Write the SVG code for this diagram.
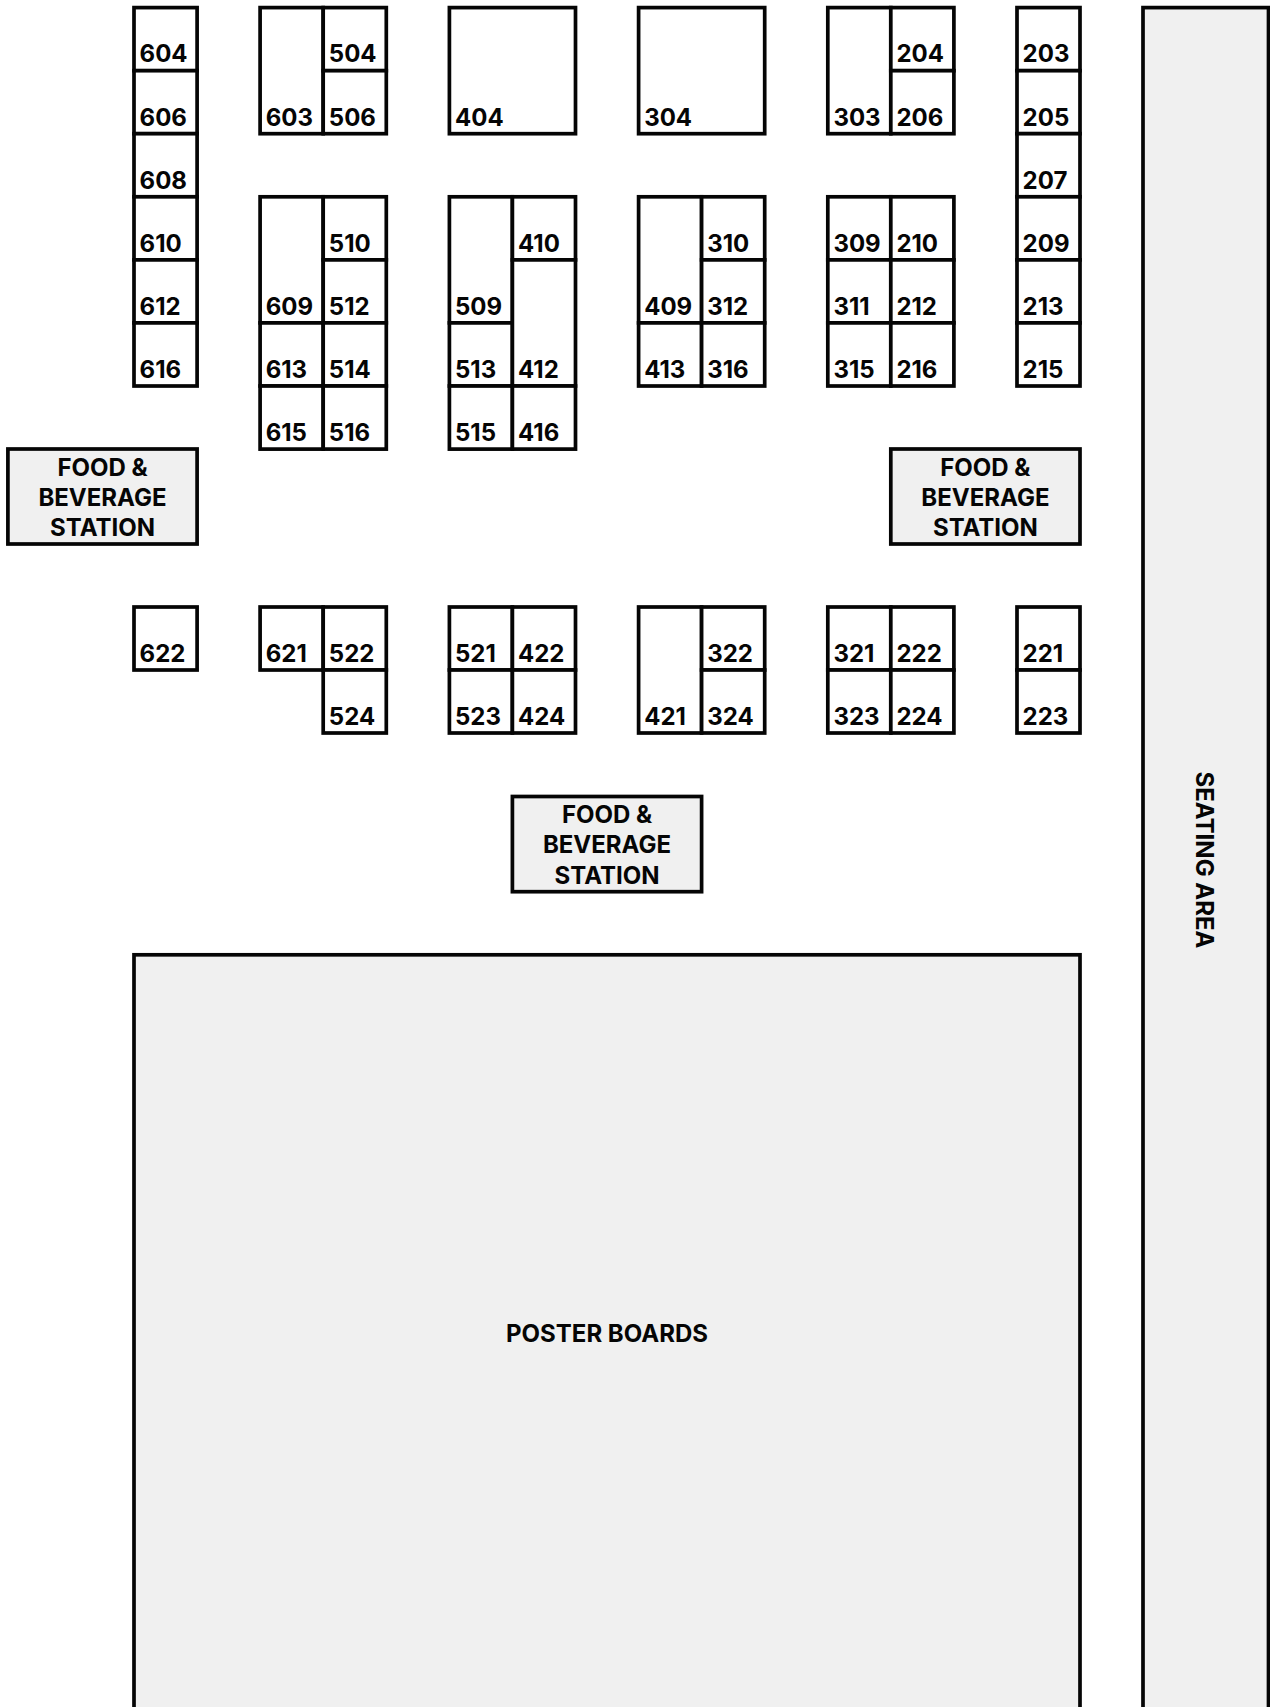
<svg xmlns="http://www.w3.org/2000/svg" width="1270" height="1707" viewBox="0 0 1270 1707">
<style>
text{font-family:"Inter","Liberation Sans",sans-serif;font-weight:700;fill:#050505;font-size:24px}
.a{fill:#fff;stroke:#050505;stroke-width:3.7}
.g{fill:#f0f0f0;stroke:#050505;stroke-width:3.7}
.c{text-anchor:middle}
</style>
<rect width="1270" height="1707" fill="#fff"/>
<g id="booth-604"><rect class="a" x="134" y="7.6" width="63.1" height="63.1"/><text x="139.6" y="62">604</text></g>
<g id="booth-606"><rect class="a" x="134" y="70.7" width="63.1" height="63"/><text x="139.6" y="125.7">606</text></g>
<g id="booth-608"><rect class="a" x="134" y="133.7" width="63.1" height="63.1"/><text x="139.6" y="188.8">608</text></g>
<g id="booth-610"><rect class="a" x="134" y="196.8" width="63.1" height="63.1"/><text x="139.6" y="251.9">610</text></g>
<g id="booth-612"><rect class="a" x="134" y="259.9" width="63.1" height="63"/><text x="139.6" y="314.9">612</text></g>
<g id="booth-616"><rect class="a" x="134" y="322.9" width="63.1" height="63.1"/><text x="139.6" y="378">616</text></g>
<g id="booth-603"><rect class="a" x="260.1" y="7.6" width="63.1" height="126.1"/><text x="265.7" y="125.7">603</text></g>
<g id="booth-504"><rect class="a" x="323.2" y="7.6" width="63.1" height="63.1"/><text x="328.8" y="62">504</text></g>
<g id="booth-506"><rect class="a" x="323.2" y="70.7" width="63.1" height="63"/><text x="328.8" y="125.7">506</text></g>
<g id="booth-404"><rect class="a" x="449.4" y="7.6" width="126.1" height="126.1"/><text x="455" y="125.7">404</text></g>
<g id="booth-304"><rect class="a" x="638.6" y="7.6" width="126.1" height="126.1"/><text x="644.2" y="125.7">304</text></g>
<g id="booth-303"><rect class="a" x="827.8" y="7.6" width="63" height="126.1"/><text x="833.4" y="125.7">303</text></g>
<g id="booth-204"><rect class="a" x="890.8" y="7.6" width="63.1" height="63.1"/><text x="896.4" y="62">204</text></g>
<g id="booth-206"><rect class="a" x="890.8" y="70.7" width="63.1" height="63"/><text x="896.4" y="125.7">206</text></g>
<g id="booth-203"><rect class="a" x="1017" y="7.6" width="63" height="63.1"/><text x="1022.6" y="62">203</text></g>
<g id="booth-205"><rect class="a" x="1017" y="70.7" width="63" height="63"/><text x="1022.6" y="125.7">205</text></g>
<g id="booth-207"><rect class="a" x="1017" y="133.7" width="63" height="63.1"/><text x="1022.6" y="188.8">207</text></g>
<g id="booth-209"><rect class="a" x="1017" y="196.8" width="63" height="63.1"/><text x="1022.6" y="251.9">209</text></g>
<g id="booth-213"><rect class="a" x="1017" y="259.9" width="63" height="63"/><text x="1022.6" y="314.9">213</text></g>
<g id="booth-215"><rect class="a" x="1017" y="322.9" width="63" height="63.1"/><text x="1022.6" y="378">215</text></g>
<g id="booth-609"><rect class="a" x="260.1" y="196.8" width="63.1" height="126.1"/><text x="265.7" y="314.9">609</text></g>
<g id="booth-613"><rect class="a" x="260.1" y="322.9" width="63.1" height="63.1"/><text x="265.7" y="378">613</text></g>
<g id="booth-615"><rect class="a" x="260.1" y="386" width="63.1" height="63.1"/><text x="265.7" y="441">615</text></g>
<g id="booth-510"><rect class="a" x="323.2" y="196.8" width="63.1" height="63.1"/><text x="328.8" y="251.9">510</text></g>
<g id="booth-512"><rect class="a" x="323.2" y="259.9" width="63.1" height="63"/><text x="328.8" y="314.9">512</text></g>
<g id="booth-514"><rect class="a" x="323.2" y="322.9" width="63.1" height="63.1"/><text x="328.8" y="378">514</text></g>
<g id="booth-516"><rect class="a" x="323.2" y="386" width="63.1" height="63.1"/><text x="328.8" y="441">516</text></g>
<g id="booth-509"><rect class="a" x="449.4" y="196.8" width="63" height="126.1"/><text x="455" y="314.9">509</text></g>
<g id="booth-513"><rect class="a" x="449.4" y="322.9" width="63" height="63.1"/><text x="455" y="378">513</text></g>
<g id="booth-515"><rect class="a" x="449.4" y="386" width="63" height="63.1"/><text x="455" y="441">515</text></g>
<g id="booth-410"><rect class="a" x="512.4" y="196.8" width="63.1" height="63.1"/><text x="518" y="251.9">410</text></g>
<g id="booth-412"><rect class="a" x="512.4" y="259.9" width="63.1" height="126.1"/><text x="518" y="378">412</text></g>
<g id="booth-416"><rect class="a" x="512.4" y="386" width="63.1" height="63.1"/><text x="518" y="441">416</text></g>
<g id="booth-409"><rect class="a" x="638.6" y="196.8" width="63" height="126.1"/><text x="644.2" y="314.9">409</text></g>
<g id="booth-413"><rect class="a" x="638.6" y="322.9" width="63" height="63.1"/><text x="644.2" y="378">413</text></g>
<g id="booth-310"><rect class="a" x="701.6" y="196.8" width="63.1" height="63.1"/><text x="707.2" y="251.9">310</text></g>
<g id="booth-312"><rect class="a" x="701.6" y="259.9" width="63.1" height="63"/><text x="707.2" y="314.9">312</text></g>
<g id="booth-316"><rect class="a" x="701.6" y="322.9" width="63.1" height="63.1"/><text x="707.2" y="378">316</text></g>
<g id="booth-309"><rect class="a" x="827.8" y="196.8" width="63" height="63.1"/><text x="833.4" y="251.9">309</text></g>
<g id="booth-311"><rect class="a" x="827.8" y="259.9" width="63" height="63"/><text x="833.4" y="314.9">311</text></g>
<g id="booth-315"><rect class="a" x="827.8" y="322.9" width="63" height="63.1"/><text x="833.4" y="378">315</text></g>
<g id="booth-210"><rect class="a" x="890.8" y="196.8" width="63.1" height="63.1"/><text x="896.4" y="251.9">210</text></g>
<g id="booth-212"><rect class="a" x="890.8" y="259.9" width="63.1" height="63"/><text x="896.4" y="314.9">212</text></g>
<g id="booth-216"><rect class="a" x="890.8" y="322.9" width="63.1" height="63.1"/><text x="896.4" y="378">216</text></g>
<g id="booth-622"><rect class="a" x="134" y="607" width="63.1" height="63"/><text x="139.6" y="662">622</text></g>
<g id="booth-621"><rect class="a" x="260.1" y="607" width="63.1" height="63"/><text x="265.7" y="662">621</text></g>
<g id="booth-522"><rect class="a" x="323.2" y="607" width="63.1" height="63"/><text x="328.8" y="662">522</text></g>
<g id="booth-524"><rect class="a" x="323.2" y="670" width="63.1" height="63"/><text x="328.8" y="725">524</text></g>
<g id="booth-521"><rect class="a" x="449.4" y="607" width="63" height="63"/><text x="455" y="662">521</text></g>
<g id="booth-523"><rect class="a" x="449.4" y="670" width="63" height="63"/><text x="455" y="725">523</text></g>
<g id="booth-422"><rect class="a" x="512.4" y="607" width="63.1" height="63"/><text x="518" y="662">422</text></g>
<g id="booth-424"><rect class="a" x="512.4" y="670" width="63.1" height="63"/><text x="518" y="725">424</text></g>
<g id="booth-421"><rect class="a" x="638.6" y="607" width="63" height="126"/><text x="644.2" y="725">421</text></g>
<g id="booth-322"><rect class="a" x="701.6" y="607" width="63.1" height="63"/><text x="707.2" y="662">322</text></g>
<g id="booth-324"><rect class="a" x="701.6" y="670" width="63.1" height="63"/><text x="707.2" y="725">324</text></g>
<g id="booth-321"><rect class="a" x="827.8" y="607" width="63" height="63"/><text x="833.4" y="662">321</text></g>
<g id="booth-323"><rect class="a" x="827.8" y="670" width="63" height="63"/><text x="833.4" y="725">323</text></g>
<g id="booth-222"><rect class="a" x="890.8" y="607" width="63.1" height="63"/><text x="896.4" y="662">222</text></g>
<g id="booth-224"><rect class="a" x="890.8" y="670" width="63.1" height="63"/><text x="896.4" y="725">224</text></g>
<g id="booth-221"><rect class="a" x="1017" y="607" width="63" height="63"/><text x="1022.6" y="662">221</text></g>
<g id="booth-223"><rect class="a" x="1017" y="670" width="63" height="63"/><text x="1022.6" y="725">223</text></g>
<g id="food-left"><rect class="g" x="7.9" y="449" width="189.2" height="95"/><text class="c" x="102.5" y="475.7">FOOD &amp;</text><text class="c" x="102.5" y="505.7">BEVERAGE</text><text class="c" x="102.5" y="535.7">STATION</text></g>
<g id="food-right"><rect class="g" x="890.8" y="449" width="189.2" height="95"/><text class="c" x="985.4" y="475.7">FOOD &amp;</text><text class="c" x="985.4" y="505.7">BEVERAGE</text><text class="c" x="985.4" y="535.7">STATION</text></g>
<g id="food-centre"><rect class="g" x="512.4" y="796.5" width="189.2" height="95.2"/><text class="c" x="607" y="822.7">FOOD &amp;</text><text class="c" x="607" y="852.7">BEVERAGE</text><text class="c" x="607" y="883.7">STATION</text></g>
<g id="poster-boards"><rect class="g" x="134" y="954.8" width="946" height="770"/><text class="c" x="607" y="1341.7">POSTER BOARDS</text></g>
<g id="seating-area"><rect class="g" x="1143" y="7.6" width="125.5" height="1720"/><text class="c" transform="translate(1196 860) rotate(90)">SEATING AREA</text></g>
<g id="connectors"/>
</svg>
